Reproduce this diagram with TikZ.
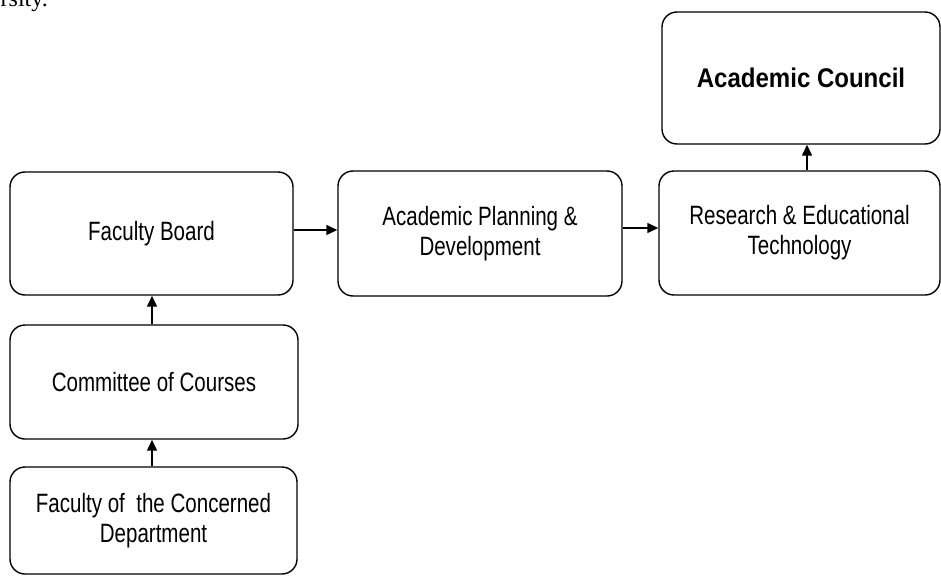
\documentclass[tikz,border=0pt]{standalone}
\usepackage{fontspec}
\setmainfont{Liberation Sans}[FakeStretch=0.775]
\newfontfamily\acfont{Liberation Sans}[FakeStretch=0.89]
\newfontfamily\serifpart{Liberation Serif}
\usetikzlibrary{arrows.meta,calc}
\begin{document}
\begin{tikzpicture}[x=1pt,y=-1pt,
  box/.style={draw, line width=1.4pt, rounded corners=15pt, inner sep=0pt, align=center,
    font=\fontsize{26.5}{30}\selectfont},
  arr/.style={line width=1.4pt, -{Triangle[length=11pt,width=10pt]}}]
\useasboundingbox (0,0) rectangle (941,575);
\node[anchor=base east, font=\serifpart\fontsize{24}{28}\selectfont, inner sep=0pt] (top) at (48,7) {rsity.};
\node[box, minimum width=283pt, minimum height=123pt] (fb) at (151.5,233.5) {Faculty Board};
\node[box, minimum width=284pt, minimum height=125pt] (apd) at (480,233.5) {Academic Planning \&\\Development};
\node[box, minimum width=281pt, minimum height=124pt] (ret) at (799.5,233) {Research \& Educational\\Technology};
\node[box, minimum width=278pt, minimum height=132pt, font=\acfont\bfseries\fontsize{27}{30}\selectfont] (ac) at (801,78) {Academic Council};
\node[box, minimum width=288pt, minimum height=114pt] (cc) at (154,382) {Committee of Courses};
\node[box, minimum width=287pt, minimum height=107pt] (fcd) at (153.5,520.5) {Faculty of \ the Concerned\\Department};
\draw[arr] ([xshift=-2pt]cc.north) -- ([xshift=-2pt]cc.north |- fb.south);
\draw[arr] ([xshift=-1.5pt]fcd.north) -- ([xshift=-1.5pt]fcd.north |- cc.south);
\draw[arr] ([yshift=3.5pt]fb.east) -- ([yshift=3.5pt]fb.east -| apd.west);
\draw[arr] ([yshift=5.5pt]apd.east) -- ([yshift=5.5pt]apd.east -| ret.west);
\draw[arr] ([xshift=7.5pt]ret.north) -- ([xshift=7.5pt]ret.north |- ac.south);
\end{tikzpicture}
\end{document}
